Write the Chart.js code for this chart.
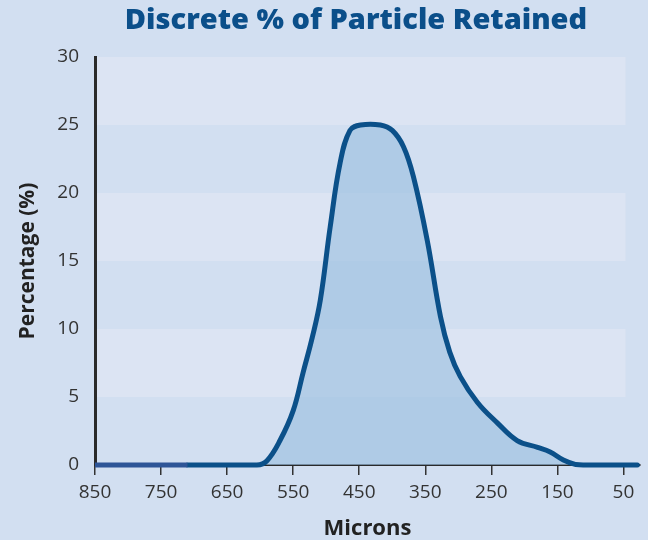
<!DOCTYPE html>
<html>
<head>
<meta charset="utf-8">
<script src="https://cdn.jsdelivr.net/npm/chart.js@4"></script>
<style>
html,body{margin:0;padding:0;background:#d2dff1;}
#wrap{width:648px;height:540px;}
</style>
</head>
<body>
<div id="wrap"><canvas id="c" width="648" height="540"></canvas></div>
<script>
const titleText = "Discrete % of Particle Retained";
const xTitle = "Microns";
const yTitle = "Percentage (%)";
const xTickValues = [850, 750, 650, 550, 450, 350, 250, 150, 50];
// main curve (microns, percent)
const curveMicrons = [710, 605, 590, 570, 550, 535, 521, 509, 494, 479, 464, 448, 418, 400, 383, 368, 347, 327, 313, 297, 271, 241, 211, 180, 161, 141, 122, 110, 29];
const curvePercent = [0, 0, 0.3, 1.8, 4.0, 6.8, 9.4, 12.1, 17.5, 22.2, 24.6, 25, 25, 24.6, 23.4, 21.2, 16.5, 10.9, 8.3, 6.5, 4.6, 3.1, 1.8, 1.3, 0.96, 0.37, 0.03, 0, 0];
// left zero segment
const segMicrons = [850, 710];
const segPercent = [0, 0];
// alternating light bands (percent ranges)
const bandRanges = [[25, 30], [15, 20], [5, 10]];
const bandXRange = [850, 47];

const curveData = curveMicrons.map((m, i) => ({x: m, y: curvePercent[i]}));
const segData = segMicrons.map((m, i) => ({x: m, y: segPercent[i]}));

const bgPlugin = {
  id: 'bgbands',
  beforeDraw(chart) {
    const ctx = chart.ctx;
    ctx.save();
    ctx.fillStyle = '#d2dff1';
    ctx.fillRect(0, 0, chart.width, chart.height);
    const xs = chart.scales.x, ys = chart.scales.y;
    ctx.fillStyle = '#dce4f3';
    const x0 = xs.getPixelForValue(bandXRange[0]);
    const x1 = xs.getPixelForValue(bandXRange[1]);
    bandRanges.forEach(r => {
      const y0 = ys.getPixelForValue(r[1]);
      const y1 = ys.getPixelForValue(r[0]);
      ctx.fillRect(x0, y0, x1 - x0, y1 - y0);
    });
    ctx.restore();
  },
  afterDraw(chart) {
    const ctx = chart.ctx;
    ctx.save();
    ctx.fillStyle = '#0b4f8a';
    ctx.font = '800 29px "Open Sans"';
    ctx.textAlign = 'center';
    ctx.textBaseline = 'middle';
    ctx.fillText(titleText, 356, 21);
    ctx.restore();
  }
};

new Chart(document.getElementById('c'), {
  type: 'line',
  data: {
    datasets: [
      {
        data: segData,
        borderColor: '#2e5597',
        borderWidth: 5,
        pointRadius: 0,
        fill: false,
        clip: 8,
        order: 0
      },
      {
        data: curveData,
        borderColor: '#0b5089',
        borderWidth: 5,
        pointRadius: 0,
        tension: 0.4,
        fill: 'origin',
        backgroundColor: 'rgba(156,192,224,0.65)',
        borderCapStyle: 'round',
        borderJoinStyle: 'round',
        clip: 8,
        order: 1
      }
    ]
  },
  options: {
    responsive: false,
    animation: false,
    layout: {padding: {left: 15, right: 8, top: 57, bottom: 0}},
    plugins: {
      legend: {display: false},
      title: {display: false},
      tooltip: {enabled: false}
    },
    scales: {
      x: {
        type: 'linear',
        reverse: true,
        min: 25,
        max: 850,
        afterBuildTicks(scale) { scale.ticks = xTickValues.map(v => ({value: v})); },
        afterFit(scale) { scale.height = 75; },
        grid: {display: true, drawOnChartArea: false, drawTicks: true, tickLength: 10, color: '#333', lineWidth: 1.5},
        border: {display: true, color: '#2a2a2a', width: 2},
        ticks: {color: '#333', font: {family: '"Open Sans"', size: 19}, padding: 6, autoSkip: false, maxRotation: 0},
        title: {display: true, text: xTitle, color: '#222', font: {family: '"Open Sans"', size: 22, weight: 'bold'}, padding: {top: 2, bottom: -2}}
      },
      y: {
        min: 0,
        max: 30,
        afterFit(scale) { scale.width = 80; },
        ticks: {stepSize: 5, color: '#333', font: {family: '"Open Sans"', size: 19}, padding: 16},
        grid: {display: false, drawTicks: false},
        border: {display: true, color: '#2a2a2a', width: 3},
        title: {display: true, text: yTitle, color: '#222', font: {family: '"Open Sans"', size: 21, weight: 'bold'}, padding: {top: 0, bottom: 4}}
      }
    }
  },
  plugins: [bgPlugin]
});
</script>
</body>
</html>
